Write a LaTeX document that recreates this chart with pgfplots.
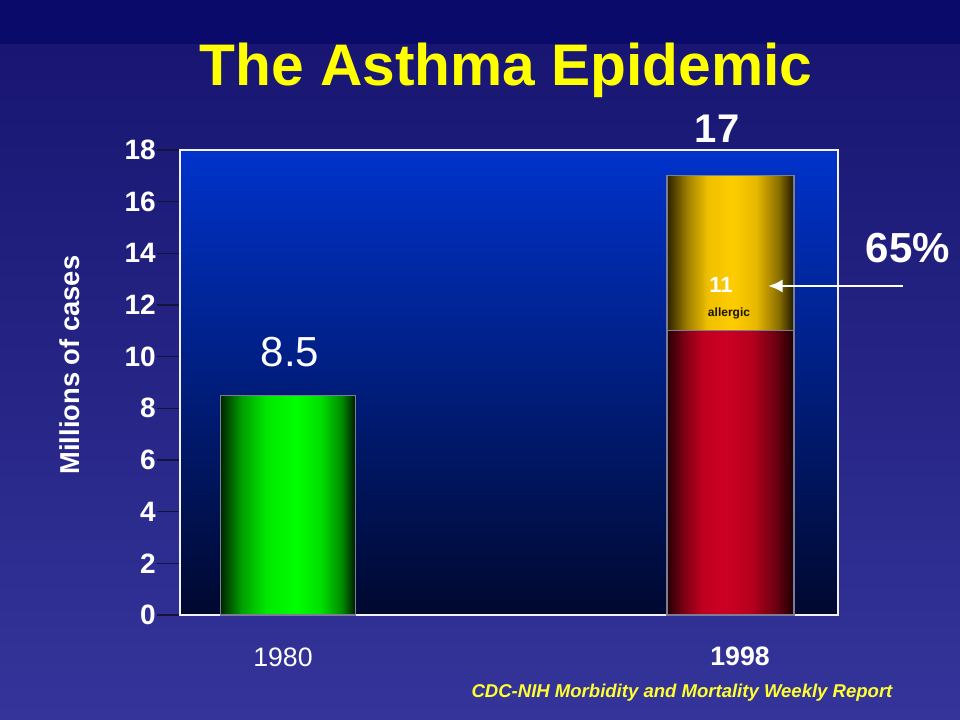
\documentclass[border=0pt]{standalone}
\usepackage{pgfplots}
\pgfplotsset{compat=1.18}
\usepackage{fontspec}
\setmainfont{Liberation Sans}
\usetikzlibrary{arrows.meta}
\definecolor{bgtop}{HTML}{0A0A6A}
\definecolor{bgmid}{HTML}{16146F}
\definecolor{bgbot}{HTML}{34349A}
\definecolor{plottop}{HTML}{0033CC}
\definecolor{plotbot}{HTML}{00082E}
\definecolor{grn}{HTML}{00FF00}
\definecolor{red1}{HTML}{CC0022}
\definecolor{yel}{HTML}{FFCC00}
\definecolor{ttl}{HTML}{FFFF00}
\definecolor{cdc}{HTML}{FFFF33}
\definecolor{barline}{HTML}{7C7C94}
\definecolor{tickc}{HTML}{14143A}
\definecolor{gE1}{HTML}{002200}
\definecolor{gE2}{HTML}{001200}
\definecolor{gM1}{HTML}{00A000}
\definecolor{gM2}{HTML}{00E800}
\definecolor{gM3}{HTML}{00E000}
\definecolor{gM4}{HTML}{008800}
\definecolor{yE1}{HTML}{2A2200}
\definecolor{yE2}{HTML}{1E1800}
\definecolor{yM1}{HTML}{A08000}
\definecolor{yM2}{HTML}{F0C000}
\definecolor{yM3}{HTML}{E8B800}
\definecolor{yM4}{HTML}{8A6E00}
\definecolor{rE1}{HTML}{260004}
\definecolor{rE2}{HTML}{1C0003}
\definecolor{rM1}{HTML}{800014}
\definecolor{rM2}{HTML}{C0001F}
\definecolor{rM3}{HTML}{B8001E}
\definecolor{rM4}{HTML}{6A0010}
\pgfdeclarehorizontalshading{greenbar}{100bp}{color(0bp)=(gE1); color(25bp)=(gE1); color(33bp)=(gM1); color(42bp)=(gM2); color(53bp)=(grn); color(62bp)=(gM3); color(70bp)=(gM4); color(75bp)=(gE2); color(100bp)=(gE2)}
\pgfdeclarehorizontalshading{yellowbar}{100bp}{color(0bp)=(yE1); color(25bp)=(yE1); color(33bp)=(yM1); color(41bp)=(yM2); color(51bp)=(yel); color(60bp)=(yM3); color(69bp)=(yM4); color(75bp)=(yE2); color(100bp)=(yE2)}
\pgfdeclarehorizontalshading{redbar}{100bp}{color(0bp)=(rE1); color(25bp)=(rE1); color(32bp)=(rM1); color(39bp)=(rM2); color(48bp)=(red1); color(58bp)=(rM3); color(68bp)=(rM4); color(75bp)=(rE2); color(100bp)=(rE2)}
\newcommand{\fs}[1]{\fontsize{#1}{#1}\selectfont}
\begin{document}
\begin{tikzpicture}
\begin{scope}[x=0.75pt,y=-0.75pt]
\fill[top color=bgmid, bottom color=bgbot] (0,0) rectangle (960,720);
\fill[bgtop] (0,0) rectangle (960,44);
\end{scope}
\begin{axis}[
  at={(135pt,-461.25pt)}, anchor=south west,
  scale only axis, width=493.5pt, height=348.75pt,
  xmin=-0.244, xmax=1.243, ymin=0, ymax=18,
  ytick={0,2,...,18}, xtick=\empty,
  tick align=outside, ytick pos=left, major tick length=17pt,
  tick style={draw=tickc, line width=0.8pt},
  /pgf/number format/assume math mode=true,
  yticklabel style={font=\bfseries\fs{21pt}, text=white, inner sep=1pt},
  axis line style={draw=white!90!gray, line width=1pt},
  axis background/.style={top color=plottop, bottom color=plotbot},
  clip=false,
]
\addplot[ybar, bar width=0.307, bar shift=0pt, draw=barline, line width=0.8pt,
  shading=greenbar, shading angle=0]
  coordinates {(0,8.5)};
\addplot[ybar, bar width=0.287, bar shift=0pt, draw=barline, line width=0.8pt,
  shading=yellowbar, shading angle=0]
  coordinates {(1,17)};
\addplot[ybar, bar width=0.287, bar shift=0pt, draw=barline, line width=0.8pt,
  shading=redbar, shading angle=0]
  coordinates {(1,11)};
\end{axis}
\begin{scope}[x=0.75pt,y=-0.75pt]
% title
\node[text=ttl, font=\bfseries\fs{44pt}] at (506,70) {The Asthma Epidemic};
% y label
\node[text=white, font=\bfseries\fs{20.5pt}, rotate=90] at (70,365) {Millions of cases};
% data labels
\node[text=white, font=\fs{31.5pt}] at (290,352) {8.5};
\node[text=white, font=\bfseries\fs{30pt}] at (717,129) {17};
\node[text=white, font=\bfseries\fs{16.5pt}] at (721,285) {11};
\node[text=black!90!yel, font=\bfseries\fs{9pt}] at (729,313) {allergic};
\node[text=white, font=\bfseries\fs{31.5pt}] at (908,248) {65\%};
\draw[white, line width=2.2pt, -{Latex[length=11pt,width=10pt]}] (903,286) -- (768,286);
% x labels
\node[text=white, font=\fs{20pt}] at (283,657) {1980};
\node[text=white, font=\bfseries\fs{20pt}] at (740,656) {1998};
\node[text=cdc, font=\bfseries\itshape\fs{13.9pt}] at (682,693) {CDC-NIH Morbidity and Mortality Weekly Report};
\end{scope}
\end{tikzpicture}
\end{document}
